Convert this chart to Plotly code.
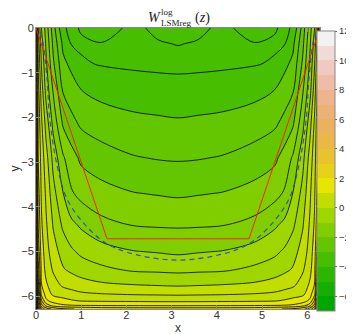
import numpy as np
import plotly.graph_objects as go

# grid nodes, left half (distance from left edge); right half is the mirror image
x_half = [0, 0.05, 0.12, 0.22, 0.38, 0.6, 0.78, 1.0, 1.45, 2.15, 2.7, np.pi]
y_rows = [0, -0.35, -0.8, -1.4, -2.1, -2.9, -3.7, -4.4, -5.0, -5.4, -5.75, -5.95, -6.1, -6.2, -2 * np.pi]

# W values, one row per y, left half only
w_half = [
    [2.5, 0.5, -0.5, -1.19, -2.29, -3.44, -3.6, -3.46, -3.38, -3.56, -3.44, -3.38],
    [2.6, 0.74, -0.28, -1.06, -2.11, -3.12, -3.52, -3.56, -3.51, -3.6, -3.52, -3.49],
    [2.8, 0.94, -0.03, -0.89, -1.91, -2.88, -3.12, -3.45, -3.53, -3.58, -3.6, -3.6],
    [3.0, 1.17, 0.26, -0.65, -1.54, -2.55, -2.75, -2.99, -3.15, -3.25, -3.3, -3.34],
    [3.2, 1.35, 0.58, -0.19, -1.17, -2.1, -2.37, -2.6, -2.75, -2.88, -2.92, -2.95],
    [3.4, 1.47, 0.8, 0.21, -0.66, -1.44, -1.8, -2.1, -2.3, -2.47, -2.53, -2.55],
    [3.6, 1.72, 0.93, 0.43, -0.32, -0.99, -1.44, -1.65, -1.82, -1.98, -2.03, -2.07],
    [3.9, 1.95, 1.07, 0.58, -0.04, -0.6, -0.88, -1.08, -1.37, -1.52, -1.55, -1.56],
    [4.2, 2.3, 1.26, 0.73, 0.2, -0.19, -0.42, -0.6, -0.8, -0.98, -1.03, -1.08],
    [4.6, 2.7, 1.38, 0.86, 0.44, 0.04, -0.1, -0.25, -0.4, -0.57, -0.6, -0.63],
    [5.2, 3.2, 1.52, 1.09, 0.71, 0.42, 0.33, 0.23, 0.09, 0.02, -0.02, -0.05],
    [5.8, 3.8, 1.85, 1.33, 0.89, 0.77, 0.67, 0.58, 0.52, 0.46, 0.44, 0.42],
    [6.4, 4.3, 2.6, 1.6, 1.32, 1.17, 1.06, 0.97, 0.94, 0.92, 0.9, 0.9],
    [7.0, 4.8, 3.2, 2.3, 1.75, 1.56, 1.51, 1.47, 1.44, 1.42, 1.41, 1.4],
    [8.0, 5.5, 4.0, 3.3, 2.9, 2.6, 2.52, 2.45, 2.35, 2.3, 2.3, 2.3],
]

# dashed blue curve (left half) and red polygon
blue_x_half = [0.09, 0.15, 0.25, 0.3, 0.47, 0.7, 1.13, 1.58, 2.18, np.pi]
blue_y_half = [-0.1, -0.3, -1.2, -2.0, -3.09, -3.85, -4.45, -4.83, -5.06, -5.19]
red_x = [0, np.pi / 2, 3 * np.pi / 2, 2 * np.pi]
red_y = [0, -3 * np.pi / 2, -3 * np.pi / 2, 0]

# colour bands, one per unit from -7 to 12
band_colors = ['#00A600', '#16AE00', '#2DB600', '#47BE00', '#63C600', '#80CE00', '#A0D600',
               '#C2DE00', '#E6E600', '#E7D217', '#E8C32E', '#E9B846', '#EBB25E', '#ECB176',
               '#EDB48E', '#EEBCA7', '#F0C9C0', '#F1DBD9', '#F2F2F2']

xs = x_half + [2 * np.pi - v for v in x_half[-2::-1]]
z = [row + row[-2::-1] for row in w_half]
blue_x = blue_x_half + [2 * np.pi - v for v in blue_x_half[-2::-1]]
blue_y = blue_y_half + blue_y_half[-2::-1]

n = len(band_colors)
cs = []
for i, c in enumerate(band_colors):
    cs.append([i / n, c])
    cs.append([(i + 1) / n, c])

tick_font = dict(family='Liberation Sans', size=11, color='#333')

fig = go.Figure()
fig.add_trace(go.Contour(
    x=xs, y=y_rows, z=z, zmin=-7, zmax=12, autocontour=False,
    contours=dict(start=-7, end=12, size=1, coloring='fill', showlines=False),
    line=dict(width=0, smoothing=1),
    colorscale=cs,
    colorbar=dict(x=0.99, xanchor='left', xpad=0, ypad=0, thickness=18, lenmode='pixels', len=280,
                  y=0.491, yanchor='middle', tickvals=list(range(-6, 13, 2)),
                  ticks='outside', ticklen=2, tickcolor='#666', outlinecolor='#888',
                  outlinewidth=1, tickfont=dict(family='Liberation Sans', size=9.5, color='#333')),
))
fig.add_trace(go.Contour(
    x=xs, y=y_rows, z=z, autocontour=False, showscale=False,
    contours=dict(start=-7, end=12, size=0.5, coloring='none'),
    line=dict(color='black', width=0.8, smoothing=1),
))
fig.add_trace(go.Scatter(x=red_x, y=red_y, mode='lines', line=dict(color='#FF2000', width=1),
                         showlegend=False))
fig.add_trace(go.Scatter(x=blue_x, y=blue_y, mode='lines', line=dict(color='#2E4FD8', width=1.2, dash='5px,4px'),
                         line_shape='spline', showlegend=False))

axis_style = dict(showline=True, linecolor='#888', linewidth=1, mirror='ticks', ticks='inside',
                  ticklen=4, tickcolor='#888', showgrid=False, zeroline=False, automargin=False,
                  tickfont=tick_font)
fig.update_xaxes(range=[0, 2 * np.pi], tickvals=list(range(0, 7)), ticklabelstandoff=-4, **axis_style)
fig.update_yaxes(range=[-2 * np.pi, 0], tickvals=list(range(-6, 1)), ticklabelstandoff=-1, **axis_style)

# axis labels
fig.add_annotation(x=0.5, y=-0.066, xref='paper', yref='paper', text='x', showarrow=False,
                   font=dict(family='Liberation Sans', size=12, color='#333'), yanchor='middle')
fig.add_annotation(x=-0.074, y=0.5, xref='paper', yref='paper', text='y', showarrow=False, textangle=-90,
                   font=dict(family='Liberation Sans', size=12, color='#333'), xanchor='center')

# title  W^log_LSMreg(z)
title_font = dict(family='Liberation Serif', size=14, color='#222')
small_font = dict(family='Liberation Serif', size=9, color='#222')
fig.add_annotation(x=0.4155, y=1.0356, xref='paper', yref='paper', text='<i>W</i>',
                   showarrow=False, font=title_font, xanchor='center', yanchor='middle')
fig.add_annotation(x=0.434, y=1.057, xref='paper', yref='paper', text='log',
                   showarrow=False, font=small_font, xanchor='left', yanchor='middle')
fig.add_annotation(x=0.434, y=1.019, xref='paper', yref='paper', text='LSMreg',
                   showarrow=False, font=small_font, xanchor='left', yanchor='middle')
fig.add_annotation(x=0.553, y=1.0356, xref='paper', yref='paper', text='(<i>z</i>)',
                   showarrow=False, font=title_font, xanchor='left', yanchor='middle')

fig.update_layout(width=354, height=334, margin=dict(l=28, r=42, t=20, b=33, pad=0, autoexpand=False),
                  plot_bgcolor='white', paper_bgcolor='white', showlegend=False)

fig.write_html('out.html')
